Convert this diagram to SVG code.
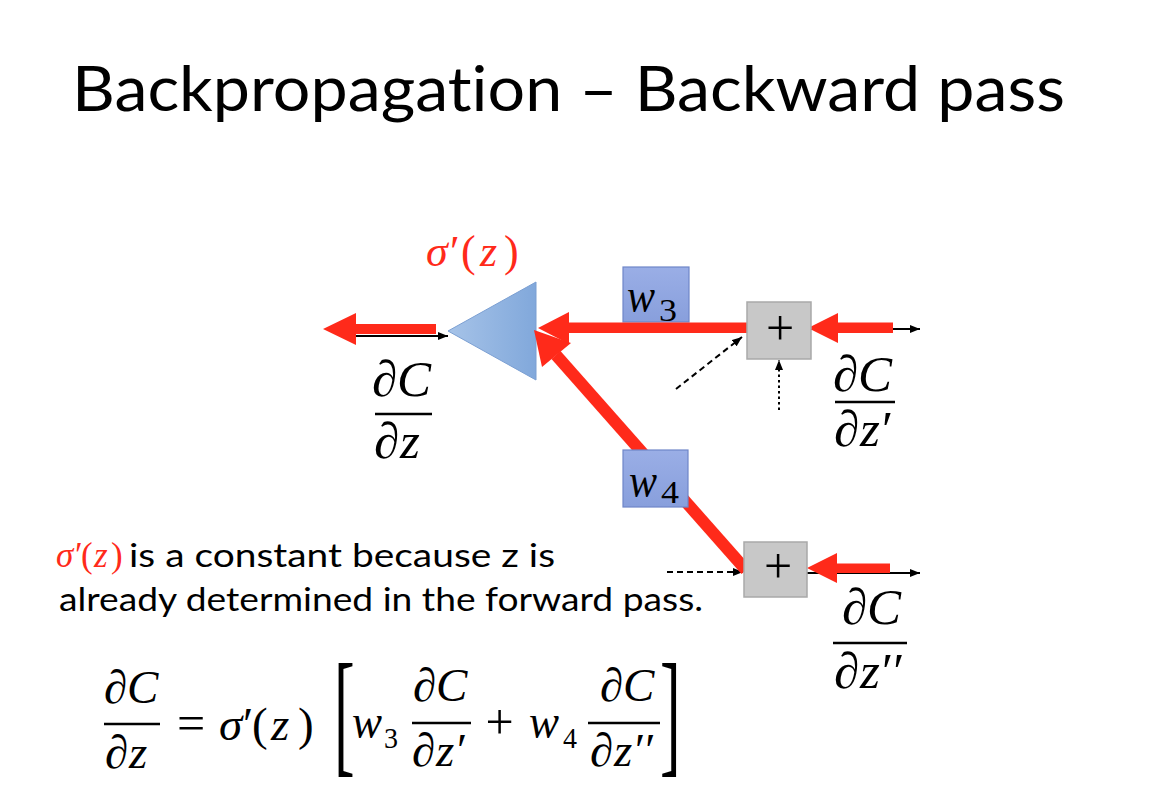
<svg xmlns="http://www.w3.org/2000/svg" width="1164" height="797" viewBox="0 0 1164 797">
<defs>
<linearGradient id="tri" x1="0" y1="0" x2="1" y2="0">
<stop offset="0" stop-color="#a6c3e8"/>
<stop offset="1" stop-color="#81a8db"/>
</linearGradient>
<linearGradient id="wb" x1="0" y1="0" x2="0" y2="1">
<stop offset="0" stop-color="#9aaee6"/>
<stop offset="1" stop-color="#889fdc"/>
</linearGradient>
<marker id="ah" viewBox="0 0 10 8" refX="10" refY="4" markerWidth="10" markerHeight="8" markerUnits="userSpaceOnUse" orient="auto">
<path d="M0,0 L10,4 L0,8 z" fill="#000"/>
</marker>
</defs>
<style>
.t{font-family:Lato,"Open Sans","Liberation Sans",sans-serif;fill:#000;font-variant-ligatures:none}
.m{font-family:"Liberation Serif","DejaVu Serif",serif;fill:#000}
.i{font-style:italic}
.r{fill:#ff2a1a}
.rl{stroke:#ff2a1a;fill:none}
.fl{stroke:#000;stroke-width:2.5}
.bk{stroke:#000;stroke-width:2;fill:none}
.gray{fill:#c8c8c8;stroke:#a9a9a9;stroke-width:1.5}
.wbox{fill:url(#wb);stroke:#6f86c8;stroke-width:1.2}
</style>
<rect width="1164" height="797" fill="#fff"/>

<text class="t" x="72" y="111" font-size="62" textLength="993" lengthAdjust="spacingAndGlyphs">Backpropagation – Backward pass</text>

<g id="connectors">
<line class="bk" x1="340" y1="336" x2="448" y2="336" marker-end="url(#ah)"/>
<line class="bk" x1="811" y1="329" x2="920" y2="329" marker-end="url(#ah)"/>
<line class="bk" x1="807" y1="573" x2="920" y2="573" marker-end="url(#ah)"/>
<line class="bk" x1="676" y1="389" x2="742" y2="337" stroke-dasharray="6 4" marker-end="url(#ah)"/>
<line class="bk" x1="779" y1="410" x2="779" y2="360" stroke-width="2.5" stroke-dasharray="2.5 3" marker-end="url(#ah)"/>
<line class="bk" x1="667" y1="572" x2="743" y2="572" stroke-dasharray="6 4" marker-end="url(#ah)"/>
</g>

<g id="sigma-node">
<polygon points="448,331 536,282 536,380" fill="url(#tri)" stroke="#7b9fd2" stroke-width="1"/>
<text class="m r" y="266" font-size="44"><tspan class="i" x="426">σ</tspan><tspan x="450">′</tspan><tspan x="461">(</tspan><tspan class="i" x="480">z</tspan><tspan x="504">)</tspan></text>
</g>

<g id="w4-edge">
<line class="rl" x1="556" y1="355" x2="746" y2="570" stroke-width="12"/>
<polygon class="r" points="534,330 542,367 571,343"/>
</g>

<g id="w3-node">
<rect class="wbox" x="623" y="267" width="66" height="55"/>
<text class="m i" x="627" y="312" font-size="48" textLength="28" lengthAdjust="spacingAndGlyphs">w</text>
<text class="m" x="659" y="321" font-size="31" textLength="18" lengthAdjust="spacingAndGlyphs">3</text>
</g>

<g id="w4-node">
<rect class="wbox" x="623" y="450" width="65" height="57"/>
<text class="m i" x="629" y="497" font-size="48" textLength="28" lengthAdjust="spacingAndGlyphs">w</text>
<text class="m" x="661" y="503" font-size="31" textLength="18" lengthAdjust="spacingAndGlyphs">4</text>
</g>

<g id="red-arrows">
<path class="r" d="M323,329 L356,313 L356,324 L436,324 L436,334 L356,334 L356,345 z"/>
<path class="r" d="M538,328 L569,312 L569,322.5 L748,322.5 L748,333 L569,333 L569,344 z"/>
<path class="r" d="M808,328 L838,313 L838,322.5 L893,322.5 L893,333 L838,333 L838,343 z"/>
<path class="r" d="M807,568 L837,553 L837,563.5 L890,563.5 L890,573 L837,573 L837,583 z"/>
</g>

<g id="plus1">
<rect class="gray" x="747" y="302" width="64" height="57"/>
<text class="m" x="780" y="345" font-size="50" text-anchor="middle">+</text>
</g>

<g id="plus2">
<rect class="gray" x="744" y="542" width="63" height="55"/>
<text class="m" x="778" y="583" font-size="50" text-anchor="middle">+</text>
</g>

<g id="dC-dz">
<text class="m" y="396" font-size="51"><tspan x="372">∂</tspan><tspan class="i" x="397">C</tspan></text>
<line class="fl" x1="375" y1="414" x2="432" y2="414"/>
<text class="m" y="458" font-size="51"><tspan x="374">∂</tspan><tspan class="i" x="400">z</tspan></text>
</g>

<g id="dC-dz1">
<text class="m" y="391" font-size="51"><tspan x="833">∂</tspan><tspan class="i" x="858">C</tspan></text>
<line class="fl" x1="835" y1="402" x2="895" y2="402"/>
<text class="m" y="446" font-size="51"><tspan x="834">∂</tspan><tspan class="i" x="860">z</tspan><tspan x="882">′</tspan></text>
</g>

<g id="dC-dz2">
<text class="m" y="624" font-size="51"><tspan x="842">∂</tspan><tspan class="i" x="867">C</tspan></text>
<line class="fl" x1="833" y1="643" x2="907" y2="643"/>
<text class="m" y="688" font-size="51"><tspan x="834">∂</tspan><tspan class="i" x="860">z</tspan><tspan x="882">′′</tspan></text>
</g>

<g id="note">
<text class="m r" y="567" font-size="35"><tspan class="i" x="56">σ</tspan><tspan x="75">′</tspan><tspan x="81">(</tspan><tspan class="i" x="94">z</tspan><tspan x="111">)</tspan></text>
<text class="t" x="129" y="567" font-size="33" textLength="426" lengthAdjust="spacingAndGlyphs">is a constant because z is</text>
<text class="t" x="59" y="611" font-size="33" textLength="644" lengthAdjust="spacingAndGlyphs">already determined in the forward pass.</text>
</g>

<g id="formula">
<text class="m" y="703" font-size="47"><tspan x="104">∂</tspan><tspan class="i" x="127">C</tspan></text>
<line class="fl" x1="104" y1="724" x2="160" y2="724"/>
<text class="m" y="768" font-size="47"><tspan x="105">∂</tspan><tspan class="i" x="129">z</tspan></text>
<text class="m" x="191" y="740" font-size="50" text-anchor="middle">=</text>
<text class="m" y="740" font-size="47"><tspan class="i" x="219">σ</tspan><tspan x="243">′</tspan><tspan x="252">(</tspan><tspan class="i" x="271">z</tspan><tspan x="298">)</tspan></text>
<text class="m" transform="translate(334,759) scale(0.45,1)" font-size="138">[</text>
<text class="m i" x="352" y="738" font-size="48" textLength="30" lengthAdjust="spacingAndGlyphs">w</text>
<text class="m" x="384" y="748" font-size="30" textLength="14" lengthAdjust="spacingAndGlyphs">3</text>
<text class="m" y="701" font-size="47"><tspan x="413">∂</tspan><tspan class="i" x="436">C</tspan></text>
<line class="fl" x1="412" y1="723" x2="471" y2="723"/>
<text class="m" y="766" font-size="47"><tspan x="412">∂</tspan><tspan class="i" x="436">z</tspan><tspan x="457">′</tspan></text>
<text class="m" x="499.5" y="739" font-size="50" text-anchor="middle">+</text>
<text class="m i" x="529" y="738" font-size="48" textLength="30" lengthAdjust="spacingAndGlyphs">w</text>
<text class="m" x="563" y="748" font-size="30" textLength="14" lengthAdjust="spacingAndGlyphs">4</text>
<text class="m" y="701" font-size="47"><tspan x="600">∂</tspan><tspan class="i" x="623">C</tspan></text>
<line class="fl" x1="588" y1="723" x2="660" y2="723"/>
<text class="m" y="766" font-size="47"><tspan x="590">∂</tspan><tspan class="i" x="614">z</tspan><tspan x="635">′′</tspan></text>
<text class="m" transform="translate(660,759) scale(0.45,1)" font-size="138">]</text>
</g>
</svg>
